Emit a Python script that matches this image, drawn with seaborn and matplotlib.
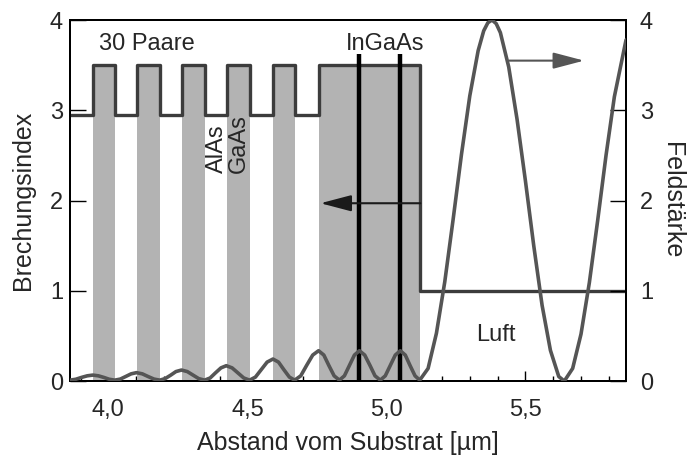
import seaborn as sns
import matplotlib.pyplot as plt
from matplotlib.ticker import MultipleLocator

# Schichtfolge: Grenzen (um) und Brechungsindex jeder Schicht
layer_edges = [3.862, 3.944, 4.023, 4.103, 4.187, 4.265, 4.346, 4.427,
               4.508, 4.591, 4.670, 4.756, 5.122, 5.862]
layer_index = [2.95, 3.5, 2.95, 3.5, 2.95, 3.5, 2.95, 3.5,
               2.95, 3.5, 2.95, 3.5, 1.0]
n_gaas = 3.5
gaas_start = [3.944, 4.103, 4.265, 4.427, 4.591, 4.756]
gaas_end = [4.023, 4.187, 4.346, 4.508, 4.670, 5.122]

# InGaAs Quantenfilme
qw_pos = [4.903, 5.050]
qw_top = 3.62

# Feldstaerke
field_x = [3.862, 3.883, 3.903, 3.924, 3.944, 3.964, 3.984, 4.003,
           4.023, 4.043, 4.062, 4.082, 4.101, 4.122, 4.143, 4.164,
           4.185, 4.204, 4.224, 4.243, 4.263, 4.284, 4.305, 4.325,
           4.346, 4.366, 4.385, 4.405, 4.424, 4.445, 4.466, 4.487,
           4.508, 4.529, 4.550, 4.571, 4.592, 4.612, 4.631, 4.651,
           4.670, 4.692, 4.713, 4.735, 4.756, 4.775, 4.793, 4.812,
           4.831, 4.849, 4.867, 4.885, 4.903, 4.922, 4.941, 4.959,
           4.978, 4.996, 5.014, 5.032, 5.050, 5.068, 5.085, 5.103,
           5.120, 5.15, 5.18, 5.21, 5.24, 5.27, 5.30, 5.33, 5.35, 5.365,
           5.38, 5.395, 5.41, 5.44, 5.47, 5.50, 5.53, 5.56, 5.59, 5.62,
           5.64, 5.67, 5.70, 5.73, 5.76, 5.79, 5.82, 5.862]
field_y = [0.01, 0.02, 0.04, 0.058, 0.066, 0.058, 0.04, 0.02,
           0.01, 0.022, 0.05, 0.08, 0.093, 0.08, 0.05, 0.022,
           0.01, 0.027, 0.065, 0.105, 0.122, 0.105, 0.065, 0.027,
           0.01, 0.034, 0.09, 0.146, 0.17, 0.146, 0.09, 0.034,
           0.01, 0.044, 0.127, 0.21, 0.244, 0.21, 0.127, 0.044,
           0.01, 0.058, 0.173, 0.288, 0.336, 0.288, 0.173, 0.058,
           0.01, 0.058, 0.173, 0.288, 0.336, 0.288, 0.173, 0.058,
           0.01, 0.058, 0.173, 0.288, 0.336, 0.288, 0.173, 0.058,
           0.01, 0.14, 0.53, 1.10, 1.79, 2.51, 3.16, 3.66, 3.88, 3.97,
           4.00, 3.96, 3.86, 3.48, 2.90, 2.22, 1.50, 0.84, 0.34, 0.05,
           0.00, 0.14, 0.52, 1.09, 1.78, 2.50, 3.15, 3.78]

xtick_vals = [4.0, 4.5, 5.0, 5.5]
xtick_labels = ['4,0', '4,5', '5,0', '5,5']
ytick_vals = [0, 1, 2, 3, 4]

sns.set_style('ticks')
plt.rcParams['font.family'] = ['Liberation Sans', 'DejaVu Sans']
fs = 17
fs_lab = 18

fig = plt.figure(figsize=(6.91, 4.58), dpi=100)
ax = fig.add_axes([0.1013, 0.168, 0.8047, 0.7883])

# graue GaAs-Schichten
for s, e in zip(gaas_start, gaas_end):
    ax.fill_between([s, e], 0, n_gaas, color='#b3b3b3', lw=0, zorder=1)

# Brechungsindexprofil
sns.lineplot(x=layer_edges, y=layer_index + [layer_index[-1]], ax=ax,
             estimator=None, drawstyle='steps-post', color='#3c3c3c',
             lw=2.4, zorder=3)

# InGaAs
for q in qw_pos:
    ax.plot([q, q], [0, qw_top], color='black', lw=3.2, zorder=4,
            solid_capstyle='butt')

ax.set_xlim(3.862, 5.862)
ax.set_ylim(0, 4)
ax.set_xticks(xtick_vals)
ax.set_xticklabels(xtick_labels)
ax.xaxis.set_minor_locator(MultipleLocator(0.1))
ax.set_yticks(ytick_vals)
ax.tick_params(axis='x', which='major', direction='in', length=7, width=1,
               pad=13, color='black', labelsize=fs)
ax.tick_params(axis='x', which='minor', direction='in', length=3.6, width=1,
               color='black')
ax.tick_params(axis='y', direction='in', length=11.5, width=1, pad=5,
               color='black', labelsize=fs)
for sp in ax.spines.values():
    sp.set_visible(True)
    sp.set_linewidth(1.4)
    sp.set_color('black')
ax.set_xlabel('Abstand vom Substrat [µm]', fontsize=fs_lab, labelpad=7)
ax.set_ylabel('Brechungsindex', fontsize=fs_lab, labelpad=11)

# Feldstaerke auf rechter Achse
ax2 = ax.twinx()
sns.lineplot(x=field_x, y=field_y, ax=ax2, estimator=None, color='#555555',
             lw=2.6, zorder=5)
ax2.set_ylim(0, 4)
ax2.set_yticks(ytick_vals)
ax2.tick_params(axis='y', direction='in', length=11.5, width=1, pad=10,
                color='black', labelsize=fs)
for sp in ax2.spines.values():
    sp.set_linewidth(1.4)
    sp.set_color('black')
ax2.set_ylabel('Feldstärke', rotation=-90, fontsize=fs_lab, labelpad=22)

# Pfeile
ax2.annotate('', xy=(4.763, 1.97), xytext=(5.122, 1.97),
             arrowprops=dict(arrowstyle='-|>,head_length=1.9,head_width=0.5',
                             color='#1a1a1a', lw=1.5, mutation_scale=10,
                             shrinkA=0, shrinkB=0))
ax2.annotate('', xy=(5.711, 3.55), xytext=(5.441, 3.55),
             arrowprops=dict(arrowstyle='-|>,head_length=1.9,head_width=0.5',
                             color='#555555', lw=1.5, mutation_scale=10,
                             shrinkA=0, shrinkB=0))

# Beschriftungen
ax2.text(4.139, 3.73, '30 Paare', ha='center', va='center', fontsize=fs)
ax2.text(4.994, 3.73, 'InGaAs', ha='center', va='center', fontsize=fs)
ax2.text(4.39, 2.3, 'AlAs', rotation=90, ha='center', va='bottom', fontsize=fs)
ax2.text(4.47, 2.3, 'GaAs', rotation=90, ha='center', va='bottom', fontsize=fs)
ax2.text(5.395, 0.51, 'Luft', ha='center', va='center', fontsize=fs)

fig.savefig('out.png', dpi=100)
